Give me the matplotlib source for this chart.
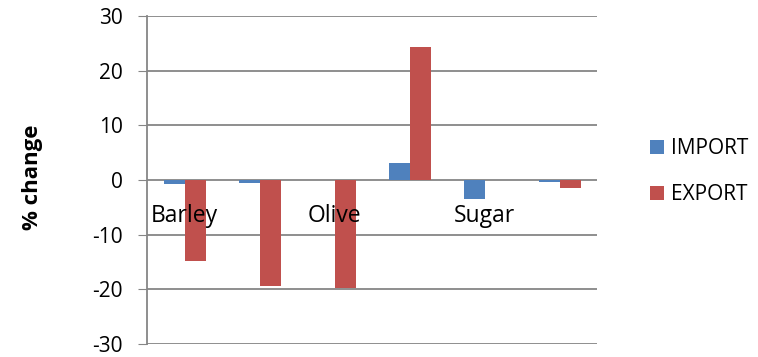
import numpy as np
import matplotlib.pyplot as plt

plt.rcParams['font.family'] = ['Open Sans', 'DejaVu Sans']
plt.rcParams['axes.unicode_minus'] = False

# 카테고리 (라벨은 한 칸 걸러 표시)
categories = ["Barley", "", "Olive", "", "Sugar", ""]
import_chg = [-0.7, -0.5, 0.0, 3.2, -3.5, -0.3]
export_chg = [-14.8, -19.4, -19.7, 24.3, 0.0, -1.4]
yticks = [-30, -20, -10, 0, 10, 20, 30]

fig = plt.figure(figsize=(7.58, 3.57), dpi=100)
ax = fig.add_axes([0.194, 0.036, 0.594, 0.919])

x = np.arange(len(categories))
w = 0.28
ax.bar(x - w / 2, import_chg, w, color="#4f81bd", label="IMPORT")
ax.bar(x + w / 2, export_chg, w, color="#c0504d", label="EXPORT")

ax.set_xlim(-0.5, len(categories) - 0.5)
ax.set_ylim(-30, 30)
ax.set_yticks(yticks)
ax.tick_params(axis="y", length=6.5, color="#868686", labelsize=15, pad=11)
ax.set_xticks([])
ax.grid(axis="y", color="#868686", linewidth=1.3)
ax.set_axisbelow(True)
for s in ["top", "right", "bottom"]:
    ax.spines[s].set_visible(False)
ax.spines["left"].set_color("#868686")
ax.spines["left"].set_linewidth(1.3)

# 카테고리 이름은 0 선 바로 아래에
for i, name in enumerate(categories):
    ax.annotate(name, (i, 0), xytext=(0, -26), textcoords="offset points",
                ha="center", va="center", fontsize=16.5)

ax.set_ylabel("% change", fontsize=16, fontweight="bold")
ax.yaxis.set_label_coords(-0.231, 0.51)

ax.legend(loc="center left", bbox_to_anchor=(1.116, 0.525), frameon=False,
          fontsize=15, handlelength=0.7, handleheight=0.7, labelspacing=1.2,
          handletextpad=0.35, borderpad=0, borderaxespad=0)

fig.savefig("out.png")
